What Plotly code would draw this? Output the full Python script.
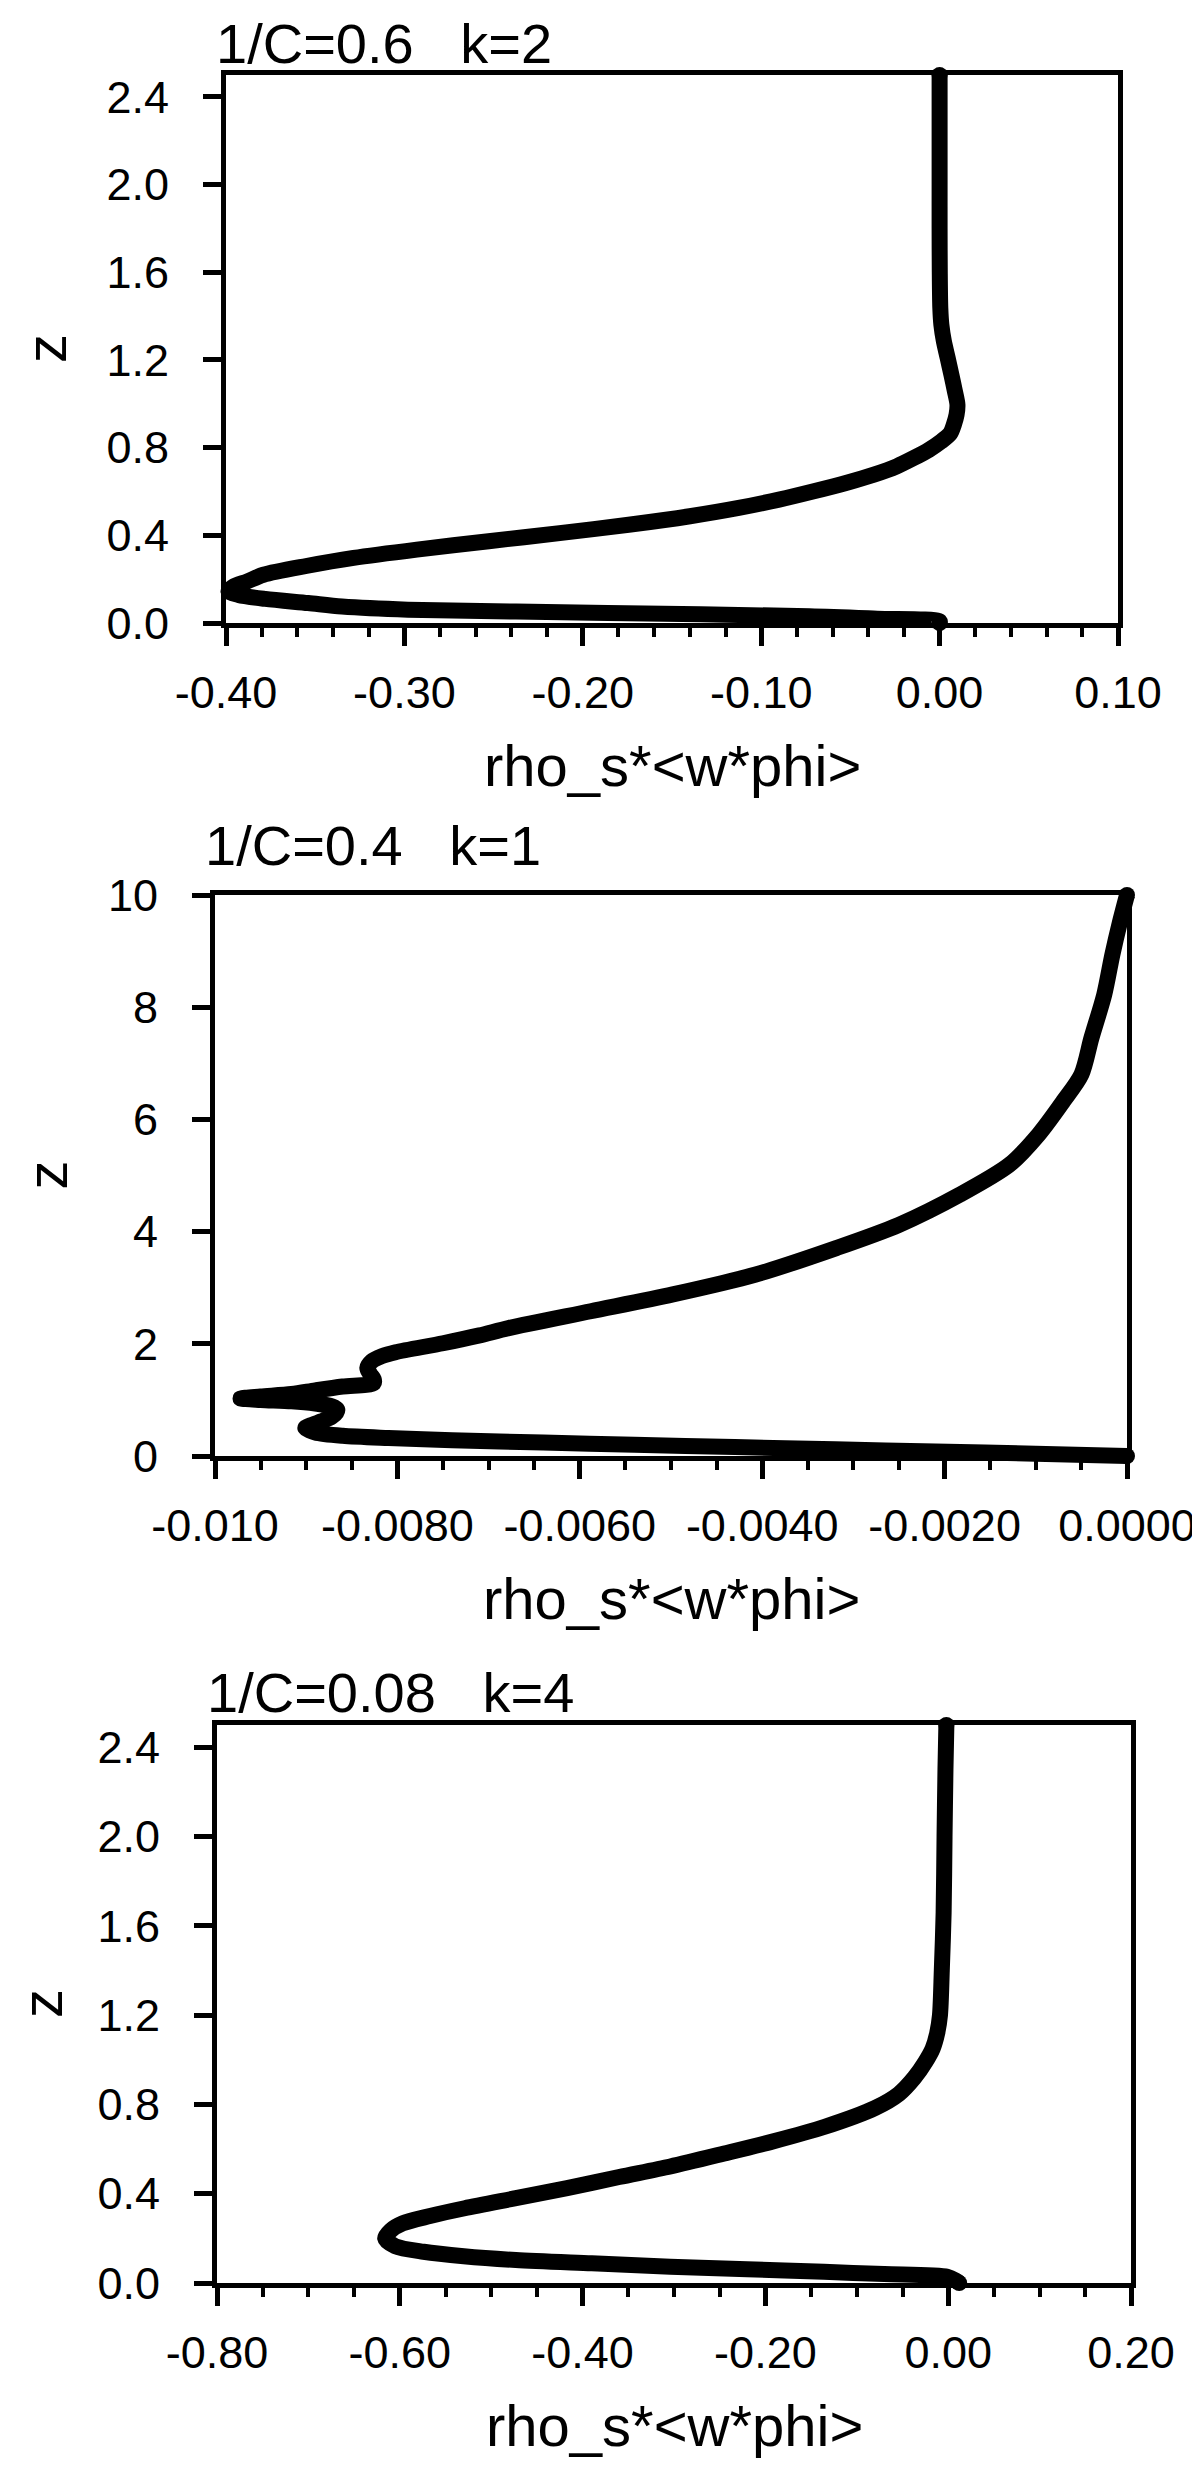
import plotly.graph_objects as go

W, H = 1200, 2471

# panel 1: 1/C=0.6  k=2
z_1 = [0.0, 0.008, 0.02, 0.031, 0.046, 0.061, 0.075, 0.091, 0.11, 0.128, 0.145, 0.165,
       0.19, 0.22, 0.26, 0.297, 0.335, 0.373, 0.41, 0.448, 0.487, 0.525, 0.563, 0.601,
       0.64, 0.677, 0.715, 0.753, 0.79, 0.829, 0.865, 0.905, 0.95, 0.996, 1.06, 1.133,
       1.21, 1.285, 1.36, 1.437, 1.6, 1.8, 2.0, 2.2, 2.4, 2.5]
flux_1 = [0.0, 0.0, -0.035, -0.073, -0.186, -0.298, -0.335, -0.354, -0.378, -0.393, -0.3986, -0.396,
          -0.388, -0.379, -0.355, -0.3285, -0.293, -0.2528, -0.213, -0.1743, -0.14, -0.1126, -0.09, -0.0705,
          -0.052, -0.0368, -0.024, -0.0144, -0.006, 0.001, 0.006, 0.008, 0.0095, 0.010, 0.0085, 0.0066,
          0.0045, 0.0024, 0.001, 0.0004, 0.0001, 0.0, 0.0, 0.0, 0.0, 0.0]
xtick_1 = [-0.4, -0.3, -0.2, -0.1, 0.0, 0.1]
xlab_1 = ["-0.40", "-0.30", "-0.20", "-0.10", "0.00", "0.10"]
ytick_1 = [0.0, 0.4, 0.8, 1.2, 1.6, 2.0, 2.4]
ylab_1 = ["0.0", "0.4", "0.8", "1.2", "1.6", "2.0", "2.4"]

# panel 2: 1/C=0.4  k=1
z_2 = [0.0, 0.04, 0.08, 0.12, 0.16, 0.20, 0.24, 0.28, 0.32, 0.36, 0.42, 0.50, 0.56, 0.62,
       0.70, 0.77, 0.83, 0.886, 0.935, 0.975, 1.0, 1.025, 1.06, 1.105, 1.17, 1.24, 1.30,
       1.37, 1.44, 1.57, 1.69, 1.78, 1.85, 2.01, 2.15, 2.28, 2.58, 2.88, 3.23, 3.71, 4.12,
       4.66, 5.19, 5.73, 6.32, 6.80, 7.45, 8.22, 8.94, 9.5, 10.0]
flux_2 = [0.0, -0.0010, -0.0021, -0.0032, -0.0043, -0.0054, -0.0064, -0.0074, -0.0081, -0.0086,
          -0.0089, -0.00901, -0.00893, -0.00883, -0.00872, -0.00867, -0.00866, -0.00872, -0.0089,
          -0.00916, -0.0095, -0.00972, -0.0095, -0.00916, -0.0089, -0.0086, -0.00826, -0.00826,
          -0.00829, -0.00833, -0.00828, -0.00817, -0.00802, -0.0075, -0.0071, -0.00678, -0.00588,
          -0.00498, -0.00408, -0.00318, -0.0025, -0.00183, -0.00129, -0.00097, -0.0007, -0.0005,
          -0.00039, -0.00025, -0.00016, -0.00008, 0.0]
xtick_2 = [-0.010, -0.008, -0.006, -0.004, -0.002, 0.0]
xlab_2 = ["-0.010", "-0.0080", "-0.0060", "-0.0040", "-0.0020", "0.0000"]
ytick_2 = [0, 2, 4, 6, 8, 10]
ylab_2 = ["0", "2", "4", "6", "8", "10"]

# panel 3: 1/C=0.08  k=4
z_3 = [0.0, 0.012, 0.028, 0.04, 0.05, 0.062, 0.073, 0.088, 0.103, 0.12, 0.14, 0.165, 0.2,
       0.235, 0.267, 0.30, 0.335, 0.38, 0.425, 0.475, 0.522, 0.58, 0.634, 0.70, 0.784, 0.847,
       0.92, 0.99, 1.05, 1.12, 1.2, 1.4, 1.66, 2.0, 2.3, 2.5]
flux_3 = [0.012, 0.008, -0.001, -0.07, -0.136, -0.22, -0.304, -0.39, -0.473, -0.53, -0.574,
          -0.605, -0.616, -0.61, -0.597, -0.567, -0.529, -0.473, -0.417, -0.36, -0.304, -0.245,
          -0.192, -0.135, -0.080, -0.054, -0.037, -0.025, -0.017, -0.012, -0.009, -0.007, -0.005,
          -0.004, -0.003, -0.002]
xtick_3 = [-0.8, -0.6, -0.4, -0.2, 0.0, 0.2]
xlab_3 = ["-0.80", "-0.60", "-0.40", "-0.20", "0.00", "0.20"]
ytick_3 = ytick_1
ylab_3 = ylab_1

NB = "\u00a0\u00a0\u00a0"
panels = [
    dict(title="1/C=0.6" + NB + "k=2", x=flux_1, z=z_1, xr=[-0.4, 0.1], yr=[0, 2.5],
         xt=xtick_1, xl=xlab_1, yt=ytick_1, yl=ylab_1, minor=0.02,
         box=(218, 1110, 67, 615), zpos=38, tbase=61),
    dict(title="1/C=0.4" + NB + "k=1", x=flux_2, z=z_2, xr=[-0.010, 0.0], yr=[0, 10],
         xt=xtick_2, xl=xlab_2, yt=ytick_2, yl=ylab_2, minor=0.0005,
         box=(207, 1119, 887, 1448), zpos=38, tbase=863),
    dict(title="1/C=0.08" + NB + "k=4", x=flux_3, z=z_3, xr=[-0.8, 0.2], yr=[0, 2.5],
         xt=xtick_3, xl=xlab_3, yt=ytick_3, yl=ylab_3, minor=0.05,
         box=(209, 1123, 1717, 2275), zpos=33, tbase=1710),
]

FONT = "Liberation Sans, Arial, Helvetica, sans-serif"
LW = 5      # frame line width
CURVE = 16  # profile line width
PAD = 40    # px of extra room for the unclipped curve layer

fig = go.Figure()
layout = dict(template="none", width=W, height=H, margin=dict(l=0, r=0, t=0, b=0),
              paper_bgcolor="white", plot_bgcolor="rgba(0,0,0,0)", showlegend=False,
              font=dict(family=FONT, color="black"))
annotations = []


def px(v):
    return v / W


def py(v):
    return 1 - v / H


for i, p in enumerate(panels, start=1):
    x0, x1, y0, y1 = p["box"]
    xdom = [px(x0), px(x1)]
    ydom = [py(y1), py(y0)]
    j = i + 3

    axis_common = dict(showline=True, linewidth=LW, linecolor="black", mirror=True,
                       showgrid=False, zeroline=False, ticks="outside", ticklen=18,
                       tickwidth=LW, tickcolor="black", tickmode="array", automargin=False,
                       tickfont=dict(size=45, family=FONT, color="black"), fixedrange=True)
    layout["xaxis%d" % i] = dict(axis_common, domain=xdom, range=p["xr"], anchor="y%d" % i,
                                 tickvals=p["xt"], ticktext=p["xl"], ticklabelstandoff=8,
                                 minor=dict(ticks="outside", tickmode="linear", tick0=p["xr"][0],
                                            dtick=p["minor"], ticklen=9, tickwidth=3.5,
                                            tickcolor="black", showgrid=False))
    layout["yaxis%d" % i] = dict(axis_common, domain=ydom, range=p["yr"], anchor="x%d" % i,
                                 tickvals=p["yt"], ticktext=p["yl"], ticklabelstandoff=25)

    # hidden layer with the same scale but a larger box, so the thick curve is not clipped
    kx = (p["xr"][1] - p["xr"][0]) / (x1 - x0)
    ky = (p["yr"][1] - p["yr"][0]) / (y1 - y0)
    layout["xaxis%d" % j] = dict(visible=False, fixedrange=True, anchor="y%d" % j, automargin=False,
                                 domain=[px(x0 - PAD), px(x1 + PAD)],
                                 range=[p["xr"][0] - PAD * kx, p["xr"][1] + PAD * kx])
    layout["yaxis%d" % j] = dict(visible=False, fixedrange=True, anchor="x%d" % j, automargin=False,
                                 domain=[py(y1 + PAD), py(y0 - PAD)],
                                 range=[p["yr"][0] - PAD * ky, p["yr"][1] + PAD * ky])

    fig.add_trace(go.Scatter(x=p["x"], y=p["z"], mode="lines", xaxis="x%d" % j, yaxis="y%d" % j,
                             line=dict(color="black", width=CURVE, shape="spline", smoothing=0.8),
                             hoverinfo="skip"))
    fig.add_trace(go.Scatter(x=[p["x"][0], p["x"][-1]], y=[p["z"][0], p["z"][-1]], mode="markers",
                             xaxis="x%d" % j, yaxis="y%d" % j,
                             marker=dict(color="black", size=CURVE), hoverinfo="skip"))
    # keeps the framed axes in the figure
    fig.add_trace(go.Scatter(x=[None], y=[None], mode="markers", xaxis="x%d" % i, yaxis="y%d" % i))

    annotations.append(dict(text=p["title"], xref="paper", yref="paper", x=px(x0 - 12),
                            y=py(p["tbase"] + 8), xanchor="left", yanchor="bottom", showarrow=False,
                            font=dict(size=56, family=FONT, color="black")))
    annotations.append(dict(text="rho_s*<w*phi>", xref="paper", yref="paper",
                            x=px((x0 + x1) / 2), y=py(y1 + 164 + 13),
                            xanchor="center", yanchor="bottom", showarrow=False,
                            font=dict(size=58, family=FONT, color="black")))
    annotations.append(dict(text="z", xref="paper", yref="paper", x=px(p["zpos"]), y=py((y0 + y1) / 2),
                            xanchor="center", yanchor="middle", textangle=-90, showarrow=False,
                            font=dict(size=58, family=FONT, color="black")))

layout["annotations"] = annotations
fig.update_layout(**layout)
fig.write_html("out.html")
